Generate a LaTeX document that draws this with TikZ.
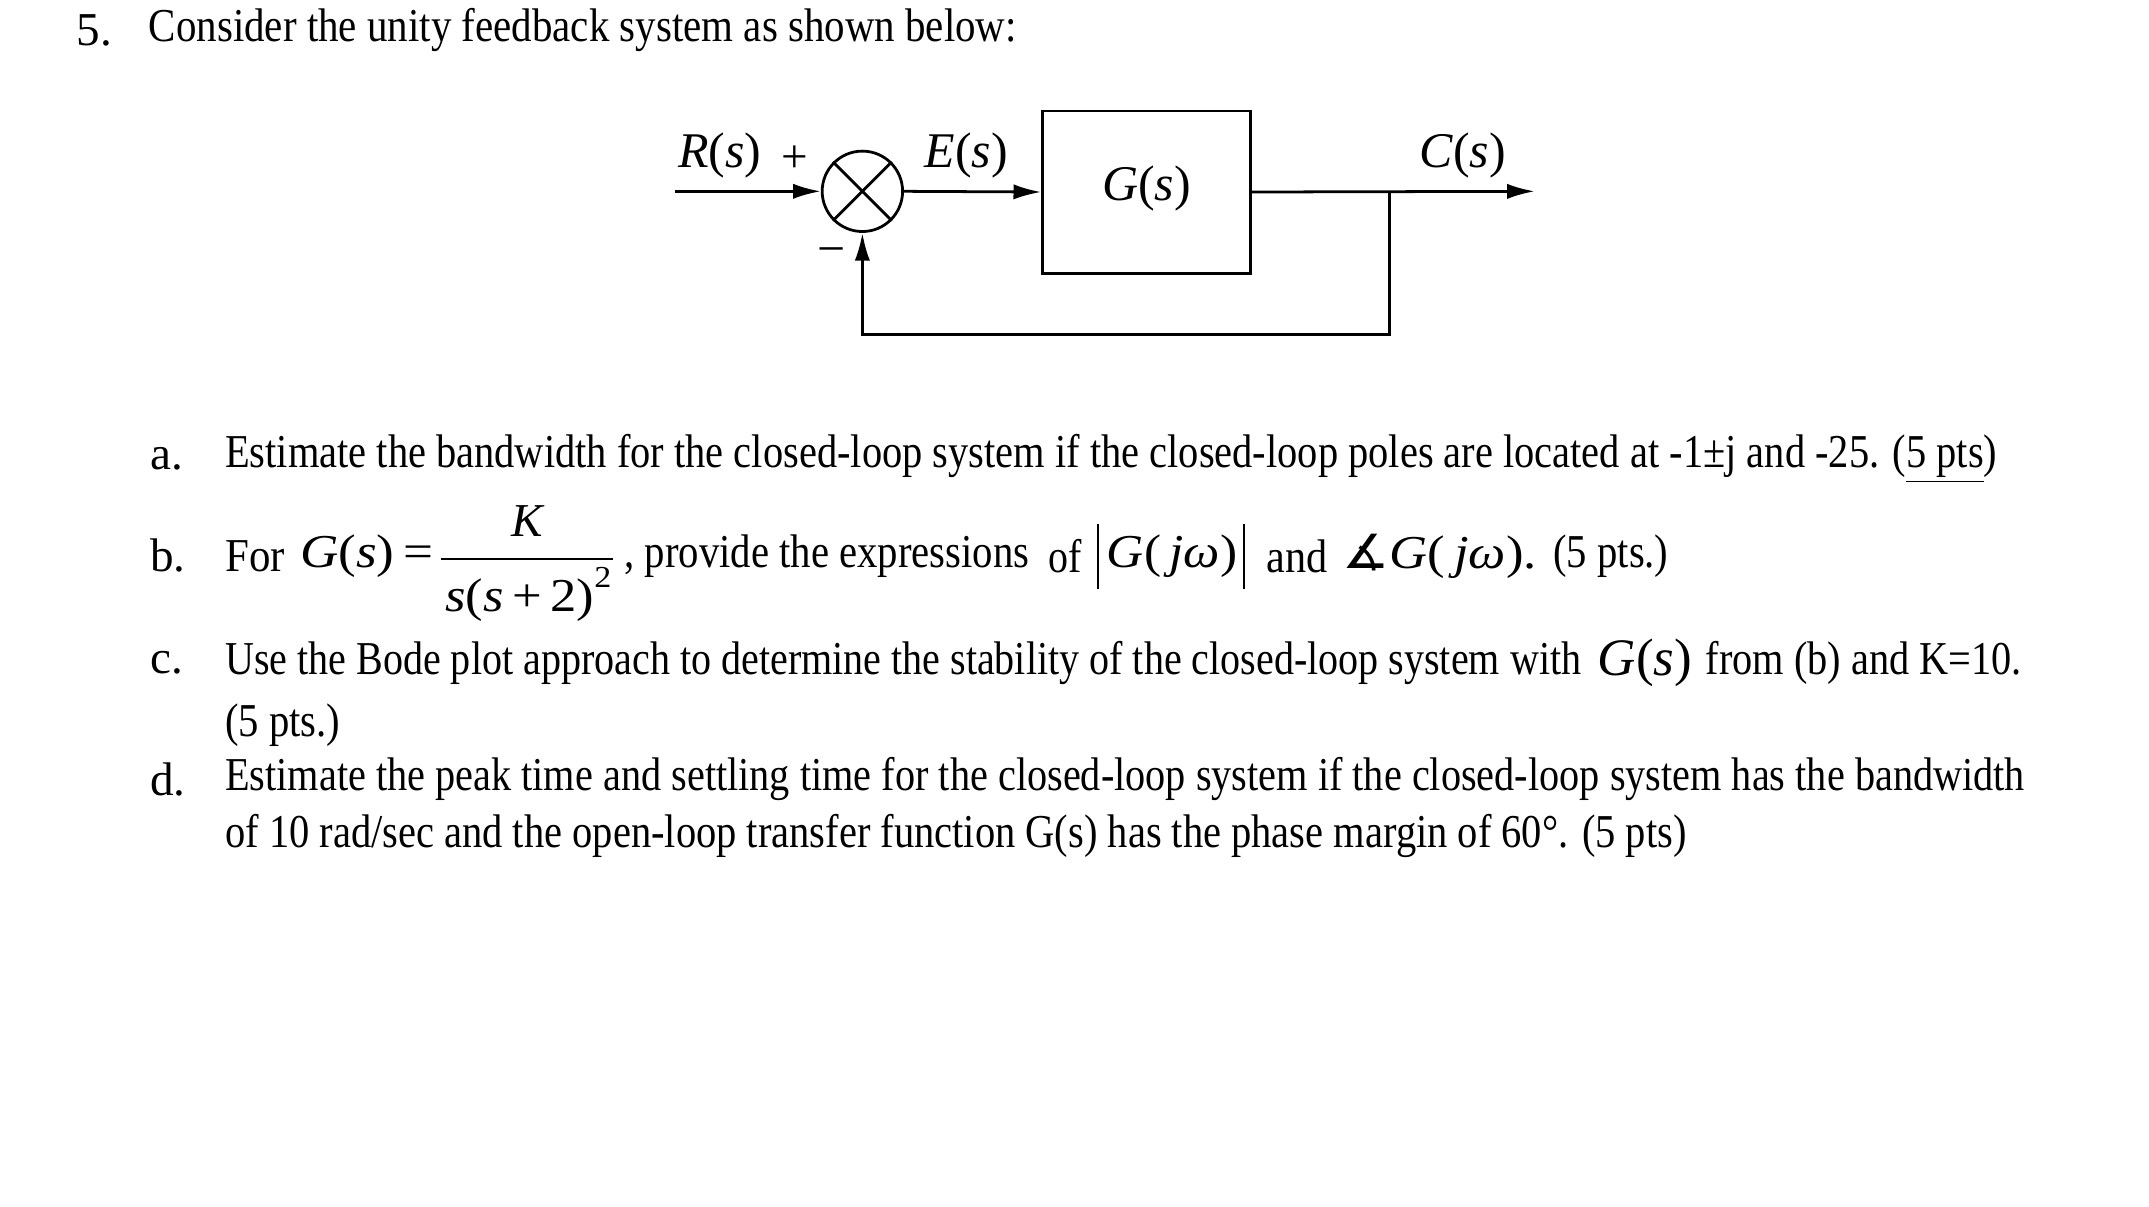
\documentclass[tikz,border=0pt]{standalone}
\usepackage{fontspec}
\setmainfont{Liberation Serif}
\newfontfamily\dejavu{DejaVu Sans}
\usetikzlibrary{arrows.meta}
\usepackage{graphicx}
\newsavebox\fbx
\newcommand\fitw[2]{\sbox\fbx{#2}\scalebox{\fpeval{(#1)*0.5/(\the\wd\fbx)}}[1]{\usebox\fbx}}
\begin{document}
\begin{tikzpicture}[x=0.5pt,y=-0.5pt,
  txt/.style={anchor=west,inner sep=0pt,font=\fontsize{17}{20}\selectfont},
  lab/.style={inner sep=0pt,font=\fontsize{17}{20}\selectfont},
  ln/.style={line width=1pt},
  arr/.style={ln,-{Latex[length=10pt,width=5.5pt]}}]
\useasboundingbox (0,0) rectangle (1550,870);
\node[txt] (n5) at (55,22) {5.};
\node[txt] (t0) at (107,22) {\fitw{626}{Consider the unity feedback system as shown below:}};
% diagram
\node[draw,ln,minimum width=75pt,minimum height=58.5pt] (G) at (827,138.5) {};
\node[lab] (Gl) at (827,136) {\fontsize{18}{20}\selectfont\textit{G}(\textit{s})};
\node[draw,ln,circle,minimum size=29pt,inner sep=0pt] (S) at (622,138) {};
\draw[ln] (S.45)--(S.225) (S.135)--(S.315);
\coordinate (in) at (487,138);
\coordinate (out) at (1107,138);
\coordinate (br) at (1002,138);
\coordinate (b1) at (1002,241);
\coordinate (b2) at (622,241);
\draw[arr] (in)--(S.west);
\draw[arr] (S.east)--(G.west);
\draw[arr] (G.east)--(out);
\draw[arr] (br)--(b1)--(b2)--(S.south);
\node[lab] (R) at (519,112) {\fontsize{18}{20}\selectfont\textit{R}(\textit{s})};
\node[lab] (plus) at (573,115) {+};
\node[lab] (minus) at (600,185) {\fontsize{18}{20}\selectfont −};
\node[lab] (E) at (697,112) {\fontsize{18}{20}\selectfont\textit{E}(\textit{s})};
\node[lab] (C) at (1055,112) {\fontsize{18}{20}\selectfont\textit{C}(\textit{s})};
% a
\node[txt] (a) at (108,331) {a.};
\node[txt] (at) at (162,331) {\fitw{1278}{Estimate the bandwidth for the closed-loop system if the closed-loop poles are located at -1±j and -25. (\underline{5 pts})}};
% b
\node[txt] (b) at (108,401) {b.};
\node[txt] (b1t) at (162,401) {\fitw{43}{For}};
\node[txt] (b2t) at (216,401) {\fitw{96}{\textit{G}(\textit{s})\,=}};
\node[lab] (K) at (381,376) {\textit{K}};
\draw[ln,line width=0.8pt] (318,403)--(442,403);
\node[lab] (den) at (381,429) {\fitw{120}{\textit{s}(\textit{s}\,+\,2)\raisebox{1.1ex}{\fontsize{11}{12}\selectfont 2}}};
\node[txt] (b3t) at (450,401) {\fitw{292}{, provide the expressions}};
\node[txt] (b4t) at (756,401) {\fitw{24}{of}};
\draw[ln,line width=0.8pt] (792,378)--(792,425) (897,378)--(897,425);
\node[txt] (b5t) at (798,401) {\fitw{94}{\textit{G}(\,\textit{jω})}};
\node[txt] (b6t) at (913,401) {\fitw{44}{and}};
\node[txt] (b7t) at (968,401) {\fitw{140}{{\dejavu ∡}\textit{G}(\,\textit{jω}).}};
\node[txt] (b8t) at (1120,401) {\fitw{83}{(5 pts.)}};
% c
\node[txt] (c) at (108,478) {c.};
\node[txt] (c1) at (162,478) {\fitw{978}{Use the Bode plot approach to determine the stability of the closed-loop system with}};
\node[txt] (c2) at (1152,478) {\fitw{68}{\fontsize{19}{20}\selectfont\textit{G}(\textit{s})}};
\node[txt] (c3) at (1230,478) {\fitw{228}{from (b) and K=10.}};
\node[txt] (c4) at (162,523) {\fitw{83}{(5 pts.)}};
% d
\node[txt] (d) at (108,562) {d.};
\node[txt] (d1) at (162,562) {\fitw{1298}{Estimate the peak time and settling time for the closed-loop system if the closed-loop system has the bandwidth}};
\node[txt] (d2) at (162,603) {\fitw{1054}{of 10 rad/sec and the open-loop transfer function G(s) has the phase margin of 60°. (5 pts)}};
\end{tikzpicture}
\end{document}
